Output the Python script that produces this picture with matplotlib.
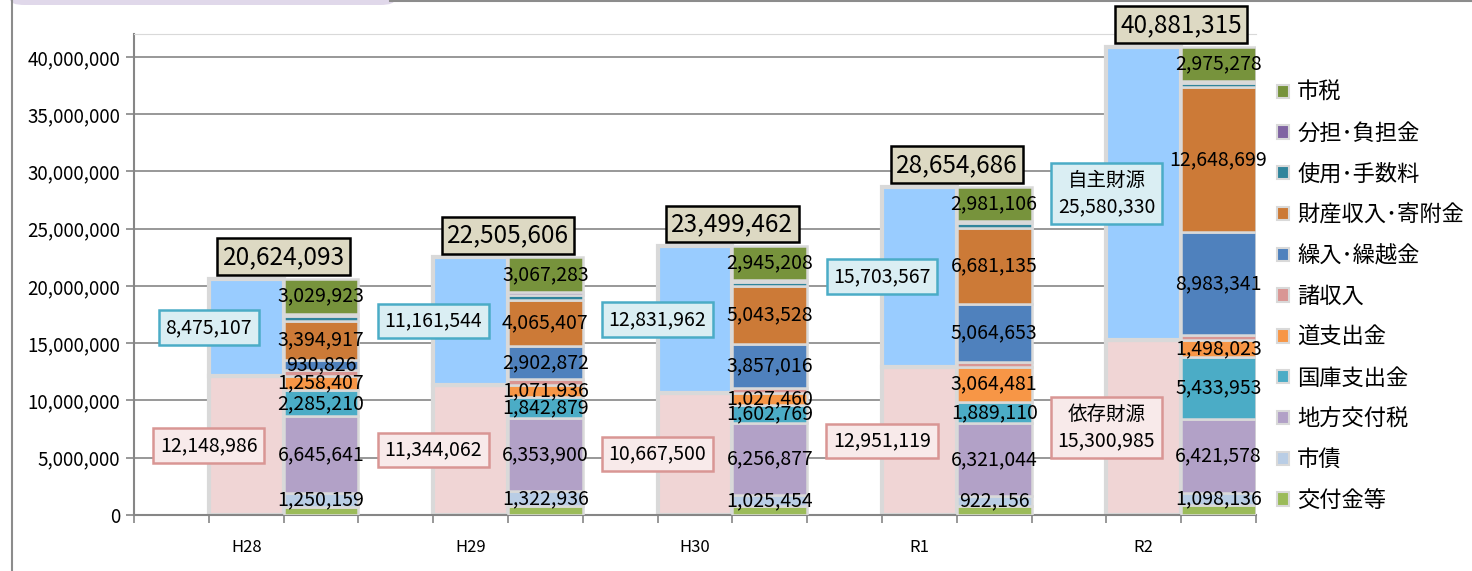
import matplotlib.pyplot as plt
from matplotlib.patches import Patch, FancyBboxPatch
from matplotlib.lines import Line2D
import numpy as np

plt.rcParams['font.family'] = ['Noto Sans CJK JP', 'DejaVu Sans']

years = ['H28', 'H29', 'H30', 'R1', 'R2']

# 依存財源の内訳
kofukin = [709569, 752411, 754940, 754328, 849295]
shisai = [1250159, 1322936, 1025454, 922156, 1098136]
chiho = [6645641, 6353900, 6256877, 6321044, 6421578]
kokko = [2285210, 1842879, 1602769, 1889110, 5433953]
dou = [1258407, 1071936, 1027460, 3064481, 1498023]
# 自主財源の内訳
shoshu = [489441, 500000, 420000, 400000, 400000]
kuriire = [930826, 2902872, 3857016, 5064653, 8983341]
zaisan = [3394917, 4065407, 5043528, 6681135, 12648699]
shiyo = [450000, 420000, 400000, 400000, 400000]
buntan = [180000, 205982, 166210, 176673, 173012]
shizei = [3029923, 3067283, 2945208, 2981106, 2975278]

izon = [12148986, 11344062, 10667500, 12951119, 15300985]
jishu = [8475107, 11161544, 12831962, 15703567, 25580330]
totals = [20624093, 22505606, 23499462, 28654686, 40881315]

# name, values, color, show label
series = [
    ('交付金等', kofukin, '#9bbb59', False),
    ('市債', shisai, '#b9cde5', True),
    ('地方交付税', chiho, '#b2a1c7', True),
    ('国庫支出金', kokko, '#4bacc6', True),
    ('道支出金', dou, '#f79646', True),
    ('諸収入', shoshu, '#d99694', False),
    ('繰入･繰越金', kuriire, '#4f81bd', True),
    ('財産収入･寄附金', zaisan, '#cc7a37', True),
    ('使用･手数料', shiyo, '#31859c', False),
    ('分担･負担金', buntan, '#8064a2', False),
    ('市税', shizei, '#77933c', True),
]

W, H = 1472, 571
fig = plt.figure(figsize=(W / 100, H / 100), dpi=100)
ax = fig.add_axes([134 / W, 1 - 515 / H, (1256 - 134) / W, (515 - 34) / H])

x_src = np.arange(len(years)) * 3 + 1.5
x_stk = np.arange(len(years)) * 3 + 2.5
edge = '#d9d9d9'
fs = 14

ax.bar(x_src, izon, width=1.0, color='#f0d5d5', edgecolor=edge, lw=3, zorder=2)
ax.bar(x_src, jishu, bottom=izon, width=1.0, color='#99ccff', edgecolor=edge, lw=3, zorder=2)

bottom = np.zeros(len(years))
for name, vals, col, lab in series:
    vals = np.array(vals)
    ax.bar(x_stk, vals, bottom=bottom, width=1.0, color=col, edgecolor=edge, lw=1.8, zorder=3)
    if lab:
        for x, b, v in zip(x_stk, bottom, vals):
            ax.text(x, b + v / 2, f'{v:,}', ha='center', va='center', fontsize=fs, zorder=6)
    bottom += vals

for i, x in enumerate(x_src):
    if i == len(years) - 1:
        t1 = f'自主財源\n{jishu[i]:,}'
        t2 = f'依存財源\n{izon[i]:,}'
    else:
        t1 = f'{jishu[i]:,}'
        t2 = f'{izon[i]:,}'
    ax.text(x - 0.5, izon[i] + jishu[i] / 2, t1, ha='center', va='center', fontsize=fs,
            linespacing=1.35, zorder=7,
            bbox=dict(boxstyle='square,pad=0.35', fc='#daeef3', ec='#4bacc6', lw=1.8))
    ax.text(x - 0.5, izon[i] / 2, t2, ha='center', va='center', fontsize=fs,
            linespacing=1.35, zorder=7,
            bbox=dict(boxstyle='square,pad=0.35', fc='#f8eaea', ec='#d99694', lw=1.8))
    ax.annotate(f'{totals[i]:,}', xy=(x + 0.5, totals[i]), xytext=(0, 9),
                textcoords='offset pixels', ha='center', va='bottom', fontsize=17.5, zorder=7,
                bbox=dict(boxstyle='square,pad=0.22', fc='#ddd9c3', ec='black', lw=1.8))

ax.set_xlim(0, 15)
ax.set_ylim(0, 42000000)
ax.set_yticks(range(0, 40000001, 5000000))
ax.set_yticklabels([f'{v:,}' for v in range(0, 40000001, 5000000)], fontsize=13.5)
ax.set_xticks(x_src)
ax.set_xticklabels(years, fontsize=12)
ax.set_xticks(np.arange(0, 16), minor=True)
ax.tick_params(axis='x', which='major', length=0, pad=17)
ax.tick_params(axis='x', which='minor', length=6, color='#868686', width=1.2)
ax.tick_params(axis='y', length=6, color='#868686', width=1.2, pad=4)
ax.yaxis.grid(True, color='#868686', lw=1.2)
ax.set_axisbelow(True)
for s in ['left', 'bottom']:
    ax.spines[s].set_color('#868686')
    ax.spines[s].set_linewidth(1.5)
ax.spines['top'].set_color('#d9d9d9')
ax.spines['right'].set_visible(False)

handles = [Patch(facecolor=c, edgecolor=edge, lw=1.5) for _, _, c, _ in series][::-1]
labels = [n for n, _, _, _ in series][::-1]
fig.legend(handles, labels, loc='upper left', bbox_to_anchor=(1266 / W, 1 - 70 / H),
           frameon=False, fontsize=16, handlelength=0.55, handleheight=0.55,
           handletextpad=0.35, labelspacing=0.8, borderpad=0)

# chart frame pieces
fig.add_artist(Line2D([12 / W, 12 / W], [0, 1], color='#8c8c8c', lw=1.5))
fig.add_artist(Line2D([390 / W, 1], [1 - 1 / H, 1 - 1 / H], color='#8c8c8c', lw=1.5))
fig.add_artist(FancyBboxPatch((10 / W, 1 - 5 / H), 385 / W, 20 / H,
                              boxstyle='round,pad=0,rounding_size=0.01',
                              transform=fig.transFigure, fc='#e0d8ea', ec='none'))

fig.savefig('out.png', dpi=100)
